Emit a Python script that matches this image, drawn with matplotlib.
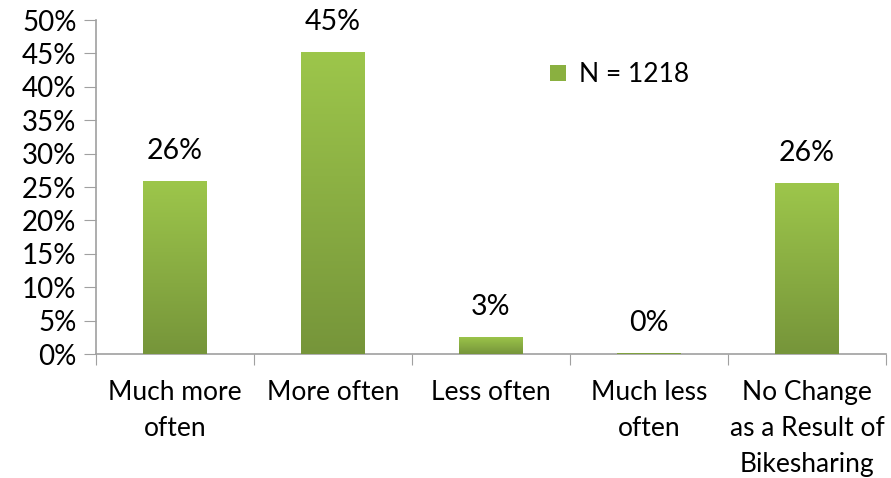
import matplotlib.pyplot as plt
from matplotlib import ticker
import numpy as np

categories = ['Much more\noften', 'More often', 'Less often',
              'Much less\noften', 'No Change\nas a Result of\nBikesharing']
shares = [25.9, 45.2, 2.6, 0.2, 25.6]
legend_label = 'N = 1218'

plt.rcParams['font.family'] = ['Lato', 'DejaVu Sans']

fig = plt.figure(figsize=(8.91, 4.78), dpi=100)
ax = fig.add_axes([0.1077, 0.2594, 0.8867, 0.6986])

x = np.arange(len(categories))
bars = ax.bar(x, shares, width=0.4, color='#8AB040', label=legend_label, zorder=2)

# vertical gradient inside each bar, light on top, darker at the base
grad = np.linspace(0, 1, 256).reshape(-1, 1)
cmap = plt.matplotlib.colors.LinearSegmentedColormap.from_list('g', ['#76953A', '#9DC64B'])
for b in bars:
    bx, by = b.get_x(), b.get_y()
    w, h = b.get_width(), b.get_height()
    if h <= 0:
        continue
    im = ax.imshow(grad, extent=[bx, bx + w, by, by + h], origin='lower',
                   cmap=cmap, aspect='auto', zorder=3)
    im.set_clip_path(b)

for xi, v in zip(x, shares):
    ax.annotate(f'{v:.0f}%', (xi, v), xytext=(0, 12), textcoords='offset points',
                ha='center', va='bottom', fontsize=20.5)

ax.set_xlim(-0.5, len(categories) - 0.5)
ax.set_ylim(0, 50)
ax.yaxis.set_major_locator(ticker.MultipleLocator(5))
ax.yaxis.set_major_formatter(ticker.PercentFormatter(xmax=100, decimals=0))

ax.set_xticks(np.arange(-0.5, len(categories), 1.0))
ax.set_xticklabels([])
ax.set_xticks(x, minor=True)
ax.set_xticklabels(categories, minor=True, fontsize=19, linespacing=1.55, va='top')
ax.tick_params(axis='x', which='minor', length=0, pad=19)
ax.tick_params(axis='x', which='major', length=8, color='#A0A0A0', direction='out')
ax.tick_params(axis='y', length=9, color='#A0A0A0', labelsize=20, pad=5)

for s in ['top', 'right']:
    ax.spines[s].set_visible(False)
for s in ['left', 'bottom']:
    ax.spines[s].set_color('#A0A0A0')
    ax.spines[s].set_linewidth(1.2)

ax.legend(loc='upper left', bbox_to_anchor=(0.545, 0.945), frameon=False,
          fontsize=19, handlelength=0.6, handleheight=0.6, handletextpad=0.5)

plt.savefig('out.png', dpi=100)
